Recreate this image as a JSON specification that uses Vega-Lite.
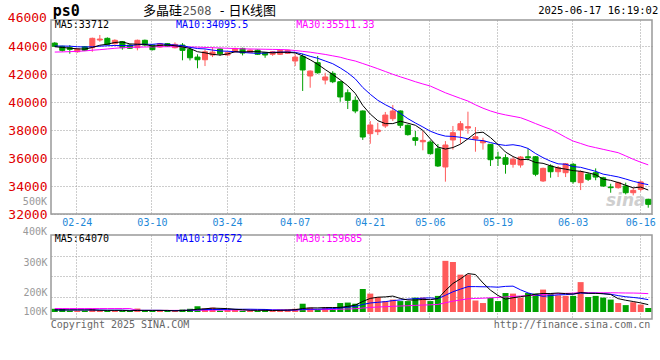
{
"$schema": "https://vega.github.io/schema/vega-lite/v6.json",
"background": "white",
"padding": {"left": 7, "top": 3, "right": 0, "bottom": 0},
"bounds": "flush",
"spacing": 21,
"config": {"view": {"stroke": "#999999", "strokeWidth": 1.5}, "font": "DejaVu Sans Mono", "text": {"font": "DejaVu Sans Mono"}},
"datasets": {"k": [
{"d":"02-19","o":44210,"h":44280,"l":43950,"c":43980,"v":28000,"m5":43950,"m10":44000,"m30":43570,"v5":18000,"v10":18000,"v30":30000},
{"d":"02-20","o":43980,"h":44020,"l":43600,"c":43690,"v":28000,"m5":43900,"m10":44000,"m30":43580,"v5":18000,"v10":18000,"v30":30000},
{"d":"02-21","o":43880,"h":44070,"l":43450,"c":43760,"v":12000,"m5":43850,"m10":43990,"m30":43600,"v5":18000,"v10":18000,"v30":30000},
{"d":"02-24","o":43590,"h":43860,"l":43520,"c":43790,"v":10000,"m5":43800,"m10":43950,"m30":43620,"v5":18000,"v10":18000,"v30":30000},
{"d":"02-25","o":43950,"h":44000,"l":43640,"c":43690,"v":10000,"m5":43782,"m10":43930,"m30":43650,"v5":17600,"v10":18000,"v30":30000},
{"d":"02-26","o":43880,"h":44600,"l":43590,"c":44550,"v":30000,"m5":43896,"m10":43950,"m30":43700,"v5":18000,"v10":18000,"v30":30000},
{"d":"02-27","o":44430,"h":44790,"l":44310,"c":44500,"v":12000,"m5":44058,"m10":43990,"m30":43740,"v5":14800,"v10":17000,"v30":30000},
{"d":"02-28","o":44550,"h":44620,"l":44050,"c":44120,"v":10000,"m5":44130,"m10":44020,"m30":43790,"v5":14400,"v10":16000,"v30":30000},
{"d":"03-03","o":44170,"h":44480,"l":44100,"c":44410,"v":10000,"m5":44254,"m10":44040,"m30":43840,"v5":14400,"v10":16000,"v30":30000},
{"d":"03-04","o":44310,"h":44360,"l":43740,"c":43880,"v":10000,"m5":44292,"m10":44037,"m30":43880,"v5":14400,"v10":16000,"v30":30000},
{"d":"03-05","o":44070,"h":44140,"l":43790,"c":43840,"v":10000,"m5":44150,"m10":44023,"m30":43900,"v5":10400,"v10":14200,"v30":30000},
{"d":"03-06","o":43880,"h":44460,"l":43690,"c":44410,"v":30000,"m5":44132,"m10":44095,"m30":43920,"v5":14000,"v10":14400,"v30":14000},
{"d":"03-07","o":44410,"h":44460,"l":44000,"c":44070,"v":10000,"m5":44122,"m10":44126,"m30":43930,"v5":14000,"v10":14200,"v30":14000},
{"d":"03-10","o":44070,"h":44120,"l":43690,"c":43740,"v":10000,"m5":43988,"m10":44121,"m30":43940,"v5":14000,"v10":14200,"v30":14000},
{"d":"03-11","o":43930,"h":44220,"l":43880,"c":44170,"v":10000,"m5":44046,"m10":44169,"m30":43950,"v5":14000,"v10":14200,"v30":14000},
{"d":"03-12","o":44170,"h":44210,"l":43930,"c":43980,"v":10000,"m5":44074,"m10":44112,"m30":43950,"v5":14000,"v10":12200,"v30":14000},
{"d":"03-13","o":43880,"h":44260,"l":43830,"c":44120,"v":10000,"m5":44016,"m10":44074,"m30":43950,"v5":10000,"v10":12000,"v30":14000},
{"d":"03-14","o":44070,"h":44210,"l":42980,"c":43690,"v":22000,"m5":43940,"m10":44031,"m30":43940,"v5":12400,"v10":13200,"v30":14500},
{"d":"03-17","o":43760,"h":43880,"l":42970,"c":43160,"v":28000,"m5":43824,"m10":43906,"m30":43930,"v5":16000,"v10":15000,"v30":15000},
{"d":"03-18","o":43210,"h":43410,"l":42410,"c":43020,"v":50000,"m5":43594,"m10":43820,"m30":43920,"v5":24000,"v10":19000,"v30":15500},
{"d":"03-19","o":43020,"h":43760,"l":42570,"c":43590,"v":30000,"m5":43516,"m10":43795,"m30":43900,"v5":28000,"v10":21000,"v30":16000},
{"d":"03-20","o":43360,"h":43930,"l":43210,"c":43570,"v":38000,"m5":43406,"m10":43711,"m30":43880,"v5":33600,"v10":21800,"v30":16500},
{"d":"03-21","o":43790,"h":43830,"l":43300,"c":43450,"v":12000,"m5":43358,"m10":43649,"m30":43860,"v5":31600,"v10":22000,"v30":17000},
{"d":"03-24","o":43360,"h":43570,"l":43310,"c":43520,"v":18000,"m5":43430,"m10":43627,"m30":43840,"v5":29600,"v10":22800,"v30":17200},
{"d":"03-25","o":43590,"h":43880,"l":43540,"c":43830,"v":20000,"m5":43592,"m10":43593,"m30":43820,"v5":23600,"v10":23800,"v30":17400},
{"d":"03-26","o":43830,"h":43880,"l":43330,"c":43500,"v":12000,"m5":43574,"m10":43545,"m30":43800,"v5":20000,"v10":24000,"v30":17500},
{"d":"03-27","o":43550,"h":43760,"l":43500,"c":43710,"v":12000,"m5":43602,"m10":43504,"m30":43790,"v5":14800,"v10":24200,"v30":17600},
{"d":"03-28","o":43710,"h":43760,"l":43360,"c":43410,"v":10000,"m5":43594,"m10":43476,"m30":43780,"v5":14400,"v10":23000,"v30":17600},
{"d":"03-31","o":43520,"h":43570,"l":43160,"c":43360,"v":20000,"m5":43562,"m10":43496,"m30":43770,"v5":14800,"v10":22200,"v30":17700},
{"d":"04-01","o":43410,"h":43640,"l":43300,"c":43590,"v":10000,"m5":43514,"m10":43553,"m30":43760,"v5":12800,"v10":18200,"v30":17700},
{"d":"04-02","o":43410,"h":43740,"l":43360,"c":43690,"v":20000,"m5":43552,"m10":43563,"m30":43750,"v5":14400,"v10":17200,"v30":17500},
{"d":"04-03","o":43480,"h":43740,"l":43430,"c":43690,"v":22000,"m5":43548,"m10":43575,"m30":43730,"v5":16400,"v10":15600,"v30":17300},
{"d":"04-07","o":42930,"h":43410,"l":42570,"c":43210,"v":28000,"m5":43508,"m10":43551,"m30":43680,"v5":20000,"v10":17200,"v30":17800},
{"d":"04-08","o":43260,"h":43450,"l":40790,"c":42290,"v":72000,"m5":43294,"m10":43428,"m30":43620,"v5":30400,"v10":22600,"v30":19900},
{"d":"04-09","o":41860,"h":42260,"l":41020,"c":42210,"v":38000,"m5":43018,"m10":43266,"m30":43560,"v5":36000,"v10":24400,"v30":20800},
{"d":"04-10","o":42810,"h":43290,"l":42020,"c":42090,"v":18000,"m5":42698,"m10":43125,"m30":43480,"v5":35600,"v10":25000,"v30":20400},
{"d":"04-11","o":41570,"h":42090,"l":41260,"c":41790,"v":38000,"m5":42318,"m10":42933,"m30":43400,"v5":38800,"v10":27600,"v30":21300},
{"d":"04-14","o":42050,"h":42200,"l":41350,"c":41450,"v":28000,"m5":41966,"m10":42737,"m30":43300,"v5":38800,"v10":29400,"v30":21900},
{"d":"04-15","o":41450,"h":41500,"l":40020,"c":40360,"v":78000,"m5":41580,"m10":42437,"m30":43200,"v5":40000,"v10":35200,"v30":24100},
{"d":"04-16","o":40660,"h":40900,"l":39500,"c":40120,"v":82000,"m5":41162,"m10":42090,"m30":43050,"v5":48800,"v10":42400,"v30":26500},
{"d":"04-17","o":40120,"h":40400,"l":39200,"c":39360,"v":72000,"m5":40616,"m10":41657,"m30":42930,"v5":59600,"v10":47600,"v30":28600},
{"d":"04-18","o":39360,"h":39400,"l":37290,"c":37500,"v":200000,"m5":39758,"m10":41038,"m30":42750,"v5":92000,"v10":65400,"v30":34300},
{"d":"04-21","o":37740,"h":38640,"l":37020,"c":38360,"v":160000,"m5":39140,"m10":40553,"m30":42570,"v5":118400,"v10":78600,"v30":39300},
{"d":"04-22","o":37880,"h":38520,"l":37640,"c":38000,"v":130000,"m5":38668,"m10":40124,"m30":42380,"v5":128800,"v10":84400,"v30":43300},
{"d":"04-23","o":38290,"h":39290,"l":38150,"c":39070,"v":95000,"m5":38458,"m10":39810,"m30":42180,"v5":131400,"v10":90100,"v30":46100},
{"d":"04-24","o":38810,"h":39790,"l":38640,"c":39360,"v":108000,"m5":38458,"m10":39537,"m30":41980,"v5":138600,"v10":99100,"v30":49400},
{"d":"04-25","o":39360,"h":39400,"l":38140,"c":38340,"v":95000,"m5":38626,"m10":39192,"m30":41800,"v5":117600,"v10":104800,"v30":52200},
{"d":"04-28","o":38340,"h":38400,"l":37600,"c":37670,"v":95000,"m5":38488,"m10":38814,"m30":41630,"v5":104600,"v10":111500,"v30":54600},
{"d":"04-29","o":37450,"h":37930,"l":36880,"c":37260,"v":125000,"m5":38340,"m10":38504,"m30":41450,"v5":103600,"v10":116200,"v30":57900},
{"d":"04-30","o":37160,"h":37930,"l":36550,"c":37260,"v":125000,"m5":37978,"m10":38218,"m30":41290,"v5":109600,"v10":120500,"v30":60400},
{"d":"05-06","o":37140,"h":37260,"l":36240,"c":36310,"v":95000,"m5":37368,"m10":37913,"m30":41140,"v5":107000,"v10":122800,"v30":62500},
{"d":"05-07","o":36660,"h":37000,"l":35360,"c":35430,"v":140000,"m5":36786,"m10":37706,"m30":40900,"v5":116000,"v10":116800,"v30":65900},
{"d":"05-08","o":35360,"h":37210,"l":34310,"c":36930,"v":445000,"m5":36638,"m10":37563,"m30":40660,"v5":186000,"v10":145300,"v30":80400},
{"d":"05-09","o":37290,"h":38290,"l":36600,"c":37810,"v":435000,"m5":36748,"m10":37544,"m30":40460,"v5":248000,"v10":175800,"v30":94300},
{"d":"05-12","o":38000,"h":38640,"l":37020,"c":38450,"v":325000,"m5":36986,"m10":37482,"m30":40260,"v5":288000,"v10":198800,"v30":104400},
{"d":"05-13","o":38140,"h":39310,"l":37740,"c":38240,"v":325000,"m5":37372,"m10":37370,"m30":40070,"v5":334000,"v10":220500,"v30":114900},
{"d":"05-14","o":37360,"h":38210,"l":36450,"c":37520,"v":100000,"m5":37790,"m10":37288,"m30":39800,"v5":326000,"v10":221000,"v30":117800},
{"d":"05-15","o":37090,"h":37450,"l":36600,"c":37210,"v":78000,"m5":37846,"m10":37242,"m30":39560,"v5":252600,"v10":219300,"v30":120100},
{"d":"05-16","o":36980,"h":37000,"l":35430,"c":35880,"v":122000,"m5":37460,"m10":37104,"m30":39360,"v5":190000,"v10":219000,"v30":123500},
{"d":"05-19","o":36070,"h":36450,"l":35430,"c":35980,"v":95000,"m5":36966,"m10":36976,"m30":39200,"v5":144000,"v10":216000,"v30":126300},
{"d":"05-20","o":36020,"h":36260,"l":34880,"c":35550,"v":165000,"m5":36428,"m10":36900,"m30":39080,"v5":112000,"v10":223000,"v30":131100},
{"d":"05-21","o":35550,"h":36070,"l":35310,"c":35910,"v":160000,"m5":36106,"m10":36948,"m30":38980,"v5":124000,"v10":225000,"v30":135700},
{"d":"05-22","o":35500,"h":36140,"l":35310,"c":36070,"v":125000,"m5":35878,"m10":36862,"m30":38880,"v5":133400,"v10":193000,"v30":139000},
{"d":"05-23","o":36090,"h":36660,"l":35830,"c":36020,"v":165000,"m5":35906,"m10":36683,"m30":38680,"v5":142000,"v10":166000,"v30":142100},
{"d":"05-26","o":36090,"h":36140,"l":34700,"c":34840,"v":160000,"m5":35678,"m10":36322,"m30":38460,"v5":155000,"v10":149500,"v30":146100},
{"d":"05-27","o":34360,"h":35310,"l":34290,"c":35260,"v":195000,"m5":35620,"m10":36024,"m30":38250,"v5":161000,"v10":136500,"v30":152000},
{"d":"05-28","o":35430,"h":35550,"l":34590,"c":35020,"v":160000,"m5":35442,"m10":35774,"m30":38050,"v5":161000,"v10":142500,"v30":156100},
{"d":"05-29","o":35020,"h":35430,"l":34640,"c":35310,"v":145000,"m5":35290,"m10":35584,"m30":37780,"v5":165000,"v10":149200,"v30":160000},
{"d":"05-30","o":34950,"h":35640,"l":34640,"c":35590,"v":140000,"m5":35204,"m10":35555,"m30":37480,"v5":160000,"v10":151000,"v30":162100},
{"d":"06-03","o":35550,"h":35640,"l":34170,"c":34310,"v":140000,"m5":35098,"m10":35388,"m30":37210,"v5":156000,"v10":155500,"v30":164000},
{"d":"06-04","o":34240,"h":35120,"l":33710,"c":35020,"v":260000,"m5":35050,"m10":35335,"m30":37040,"v5":169000,"v10":165000,"v30":170300},
{"d":"06-05","o":34840,"h":34950,"l":34360,"c":34480,"v":130000,"m5":34942,"m10":35192,"m30":36860,"v5":163000,"v10":162000,"v30":167900},
{"d":"06-06","o":34950,"h":35260,"l":34410,"c":34640,"v":140000,"m5":34808,"m10":35049,"m30":36740,"v5":162000,"v10":163500,"v30":167300},
{"d":"06-09","o":34590,"h":34660,"l":33930,"c":34000,"v":125000,"m5":34490,"m10":34847,"m30":36620,"v5":159000,"v10":159500,"v30":167100},
{"d":"06-10","o":33930,"h":34160,"l":33520,"c":33880,"v":108000,"m5":34404,"m10":34751,"m30":36500,"v5":152600,"v10":154300,"v30":167500},
{"d":"06-11","o":33880,"h":34310,"l":33810,"c":34240,"v":78000,"m5":34248,"m10":34649,"m30":36380,"v5":116200,"v10":142600,"v30":166500},
{"d":"06-12","o":34000,"h":34240,"l":33400,"c":33520,"v":60000,"m5":34056,"m10":34499,"m30":36150,"v5":102200,"v10":132600,"v30":165400},
{"d":"06-13","o":33520,"h":33880,"l":33330,"c":33690,"v":85000,"m5":33866,"m10":34337,"m30":35910,"v5":91200,"v10":126600,"v30":165000},
{"d":"06-16","o":33760,"h":34380,"l":33620,"c":34290,"v":65000,"m5":33924,"m10":34207,"m30":35700,"v5":79200,"v10":119100,"v30":163000},
{"d":"06-17","o":33050,"h":33090,"l":32450,"c":32690,"v":35000,"m5":33712,"m10":34095.5,"m30":35511.33,"v5":64070,"v10":107572,"v30":159685}
]},
"vconcat": [
{
"width": 601, "height": 194,
"data": {"name": "k"},
"resolve": {"axis": {"x": "independent", "y": "independent"}},
"layer": [
 {"mark": {"type": "rule", "strokeWidth": 1},
  "encoding": {
   "x": {"field": "d", "type": "ordinal", "title": null,
     "scale": {"paddingInner": 0.33, "paddingOuter": 0.165},
     "axis": {"values": ["02-24","03-10","03-24","04-07","04-21","05-06","05-19","06-03","06-16"], "labelAngle": 0, "labelColor": "#1e88d8", "labelFont": "DejaVu Sans Mono", "labelFontSize": 10, "labelPadding": 3, "ticks": false, "domain": false, "grid": true, "gridColor": "#9a9a9a", "gridDash": [1, 2], "bandPosition": 0.4, "labelOverlap": false}},
   "y": {"field": "l", "type": "quantitative", "title": null, "scale": {"domain": [32000, 45860], "zero": false, "nice": false},
     "axis": {"values": [32000, 34000, 36000, 38000, 40000, 42000, 44000], "format": "d", "labelColor": "#e00000", "labelFont": "DejaVu Sans Mono", "labelFontSize": 13, "labelPadding": 4, "ticks": false, "domain": false, "labelOverlap": false, "labelFlush": false, "grid": true, "gridColor": "#9a9a9a", "gridDash": [1, 2]}},
   "y2": {"field": "h"},
   "color": {"condition": {"test": "datum.c >= datum.o", "value": "#ff5a5a"}, "value": "#00a000"}}},
 {"mark": {"type": "bar", "strokeWidth": 1},
  "encoding": {
   "x": {"field": "d", "type": "ordinal", "axis": null},
   "y": {"field": "o", "type": "quantitative", "axis": null},
   "y2": {"field": "c"},
   "fill": {"condition": {"test": "datum.c >= datum.o", "value": "#ff5a5a"}, "value": "#00a000"},
   "stroke": {"condition": {"test": "datum.c >= datum.o", "value": "#ff5a5a"}, "value": "#00a000"}}},
 {"mark": {"type": "line", "color": "#ff00ff", "strokeWidth": 1}, "encoding": {"x": {"field": "d", "type": "ordinal", "axis": null}, "y": {"field": "m30", "type": "quantitative", "axis": null}}},
 {"mark": {"type": "line", "color": "#0000ff", "strokeWidth": 1}, "encoding": {"x": {"field": "d", "type": "ordinal", "axis": null}, "y": {"field": "m10", "type": "quantitative", "axis": null}}},
 {"mark": {"type": "line", "color": "#000000", "strokeWidth": 1}, "encoding": {"x": {"field": "d", "type": "ordinal", "axis": null}, "y": {"field": "m5", "type": "quantitative", "axis": null}}},
 {"data": {"values": [{}]}, "mark": {"type": "text", "text": "46000", "align": "right", "baseline": "middle", "dx": -7.8, "fontSize": 13, "color": "#e00000"},
  "encoding": {"x": {"datum": "02-19", "type": "ordinal", "axis": null}, "y": {"datum": 46000, "type": "quantitative", "axis": null}}},
 {"data": {"values": [{}]}, "mark": {"type": "text", "text": "ps0", "align": "left", "baseline": "middle", "dx": -2, "fontSize": 15, "fontWeight": "bold", "color": "#000000"},
  "encoding": {"x": {"datum": "02-19", "type": "ordinal", "axis": null}, "y": {"datum": 46500, "type": "quantitative", "axis": null}}},
 {"data": {"values": [{}]}, "mark": {"type": "text", "text": "多晶硅", "align": "left", "baseline": "middle", "dx": -2, "font": "Noto Sans CJK SC", "fontSize": 13, "color": "#000000"},
  "encoding": {"x": {"datum": "03-07", "type": "ordinal", "axis": null}, "y": {"datum": 46500, "type": "quantitative", "axis": null}}},
 {"data": {"values": [{}]}, "mark": {"type": "text", "text": "2508", "align": "left", "baseline": "middle", "dx": 0, "fontSize": 12, "color": "#555555"},
  "encoding": {"x": {"datum": "03-14", "type": "ordinal", "axis": null}, "y": {"datum": 46500, "type": "quantitative", "axis": null}}},
 {"data": {"values": [{}]}, "mark": {"type": "text", "text": "-", "align": "center", "baseline": "middle", "dx": 2, "fontSize": 13, "color": "#000000"},
  "encoding": {"x": {"datum": "03-21", "type": "ordinal", "axis": null}, "y": {"datum": 46500, "type": "quantitative", "axis": null}}},
 {"data": {"values": [{}]}, "mark": {"type": "text", "text": "日K线图", "align": "left", "baseline": "middle", "dx": 1, "font": "Noto Sans CJK SC", "fontSize": 13, "color": "#000000"},
  "encoding": {"x": {"datum": "03-24", "type": "ordinal", "axis": null}, "y": {"datum": 46500, "type": "quantitative", "axis": null}}},
 {"data": {"values": [{}]}, "mark": {"type": "text", "text": "2025-06-17 16:19:02", "align": "right", "baseline": "middle", "dx": 10, "fontSize": 10.5, "color": "#000000"},
  "encoding": {"x": {"datum": "06-17", "type": "ordinal", "axis": null}, "y": {"datum": 46500, "type": "quantitative", "axis": null}}},
 {"data": {"values": [{}]}, "mark": {"type": "text", "text": "MA5:33712", "align": "left", "baseline": "middle", "dx": 0, "fontSize": 10, "color": "#000000"},
  "encoding": {"x": {"datum": "02-19", "type": "ordinal", "axis": null}, "y": {"datum": 45500, "type": "quantitative", "axis": null}}},
 {"data": {"values": [{}]}, "mark": {"type": "text", "text": "MA10:34095.5", "align": "left", "baseline": "middle", "dx": 1, "fontSize": 10, "color": "#0000ff"},
  "encoding": {"x": {"datum": "03-13", "type": "ordinal", "axis": null}, "y": {"datum": 45500, "type": "quantitative", "axis": null}}},
 {"data": {"values": [{}]}, "mark": {"type": "text", "text": "MA30:35511.33", "align": "left", "baseline": "middle", "dx": 1, "fontSize": 10, "color": "#ff00ff"},
  "encoding": {"x": {"datum": "04-07", "type": "ordinal", "axis": null}, "y": {"datum": 45500, "type": "quantitative", "axis": null}}},
 {"data": {"values": [{}]}, "mark": {"type": "text", "text": "sina", "align": "center", "baseline": "middle", "dx": 0, "font": "DejaVu Sans", "fontSize": 17, "fontWeight": "bold", "fontStyle": "italic", "color": "#cfcfcf"},
  "encoding": {"x": {"datum": "06-12", "type": "ordinal", "axis": null}, "y": {"datum": 32900, "type": "quantitative", "axis": null}}}
]
},
{
"width": 601, "height": 84,
"data": {"name": "k"},
"resolve": {"axis": {"x": "independent", "y": "independent"}},
"layer": [
 {"mark": {"type": "bar"},
  "encoding": {
   "x": {"field": "d", "type": "ordinal", "title": null,
     "scale": {"paddingInner": 0.2, "paddingOuter": 0.1},
     "axis": {"values": ["02-24","03-10","03-24","04-07","04-21","05-06","05-19","06-03","06-16"], "labels": false, "ticks": false, "domain": false, "grid": true, "gridColor": "#9a9a9a", "gridDash": [1, 2], "bandPosition": 0.4}},
   "y": {"field": "v", "type": "quantitative", "title": null, "scale": {"domain": [-60900, 669900], "zero": false, "nice": false},
     "axis": {"values": [8700, 174000, 435000], "labelExpr": "datum.value > 300000 ? '300K' : datum.value > 100000 ? '200K' : '100K'", "labelColor": "#999999", "labelFont": "DejaVu Sans Mono", "labelFontSize": 10, "labelPadding": 4, "ticks": false, "domain": false, "grid": false, "labelOverlap": false, "labelFlush": false}},
   "y2": {"datum": 0},
   "color": {"condition": {"test": "datum.c >= datum.o", "value": "#ff5a5a"}, "value": "#00a000"}}},
 {"mark": {"type": "line", "color": "#ff00ff", "strokeWidth": 1},
  "encoding": {"x": {"field": "d", "type": "ordinal", "axis": null},
   "y": {"field": "v30", "type": "quantitative", "title": null,
     "axis": {"orient": "right", "values": [128000, 311000, 485000], "labels": false, "ticks": false, "domain": false, "grid": true, "gridColor": "#9a9a9a", "gridDash": [1, 2]}}}},
 {"mark": {"type": "line", "color": "#0000ff", "strokeWidth": 1}, "encoding": {"x": {"field": "d", "type": "ordinal", "axis": null}, "y": {"field": "v10", "type": "quantitative", "axis": null}}},
 {"mark": {"type": "line", "color": "#000000", "strokeWidth": 1}, "encoding": {"x": {"field": "d", "type": "ordinal", "axis": null}, "y": {"field": "v5", "type": "quantitative", "axis": null}}},
 {"data": {"values": [{}]}, "mark": {"type": "text", "text": "400K", "align": "right", "baseline": "middle", "dx": -7.8, "fontSize": 10, "color": "#999999"},
  "encoding": {"x": {"datum": "02-19", "type": "ordinal", "axis": null}, "y": {"datum": 696000, "type": "quantitative", "axis": null}}},
 {"data": {"values": [{}]}, "mark": {"type": "text", "text": "500K", "align": "right", "baseline": "middle", "dx": -7.8, "fontSize": 10, "color": "#999999"},
  "encoding": {"x": {"datum": "02-19", "type": "ordinal", "axis": null}, "y": {"datum": 960000, "type": "quantitative", "axis": null}}},
 {"data": {"values": [{}]}, "mark": {"type": "text", "text": "MA5:64070", "align": "left", "baseline": "middle", "dx": 0, "fontSize": 10, "color": "#000000"},
  "encoding": {"x": {"datum": "02-19", "type": "ordinal", "axis": null}, "y": {"datum": 635000, "type": "quantitative", "axis": null}}},
 {"data": {"values": [{}]}, "mark": {"type": "text", "text": "MA10:107572", "align": "left", "baseline": "middle", "dx": 1, "fontSize": 10, "color": "#0000ff"},
  "encoding": {"x": {"datum": "03-13", "type": "ordinal", "axis": null}, "y": {"datum": 635000, "type": "quantitative", "axis": null}}},
 {"data": {"values": [{}]}, "mark": {"type": "text", "text": "MA30:159685", "align": "left", "baseline": "middle", "dx": 1, "fontSize": 10, "color": "#ff00ff"},
  "encoding": {"x": {"datum": "04-07", "type": "ordinal", "axis": null}, "y": {"datum": 635000, "type": "quantitative", "axis": null}}},
 {"data": {"values": [{}]}, "mark": {"type": "text", "text": "Copyright 2025 SINA.COM", "align": "left", "baseline": "middle", "dx": -4, "fontSize": 10, "color": "#666666"},
  "encoding": {"x": {"datum": "02-19", "type": "ordinal", "axis": null}, "y": {"datum": -113000, "type": "quantitative", "axis": null}}},
 {"data": {"values": [{}]}, "mark": {"type": "text", "text": "http://finance.sina.com.cn", "align": "right", "baseline": "middle", "dx": 2, "fontSize": 10, "color": "#666666"},
  "encoding": {"x": {"datum": "06-17", "type": "ordinal", "axis": null}, "y": {"datum": -113000, "type": "quantitative", "axis": null}}}
]
}
]
}
